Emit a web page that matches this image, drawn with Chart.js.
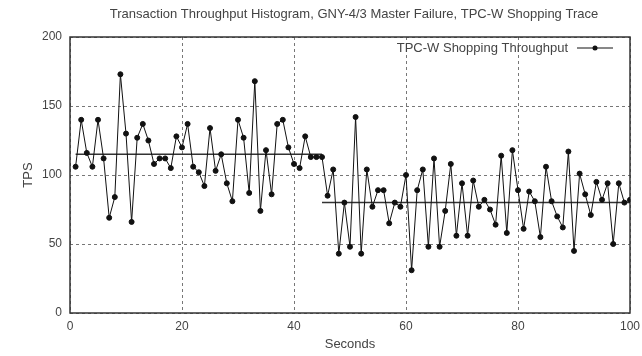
<!DOCTYPE html>
<html lang="en">
<head>
<meta charset="UTF-8">
<title>Transaction Throughput Histogram</title>
<script src="https://cdn.jsdelivr.net/npm/chart.js"></script>
<style>
  html, body { margin: 0; padding: 0; background: #fff; }
  #wrap { width: 642px; height: 356px; }
</style>
</head>
<body>
<div id="wrap"><canvas id="tpsChart"></canvas></div>
<script>
// values
const seconds = [1, 2, 3, 4, 5, 6, 7, 8, 9, 10, 11, 12, 13, 14, 15, 16, 17, 18, 19, 20,
  21, 22, 23, 24, 25, 26, 27, 28, 29, 30, 31, 32, 33, 34, 35, 36, 37, 38, 39, 40,
  41, 42, 43, 44, 45, 46, 47, 48, 49, 50, 51, 52, 53, 54, 55, 56, 57, 58, 59, 60,
  61, 62, 63, 64, 65, 66, 67, 68, 69, 70, 71, 72, 73, 74, 75, 76, 77, 78, 79, 80,
  81, 82, 83, 84, 85, 86, 87, 88, 89, 90, 91, 92, 93, 94, 95, 96, 97, 98, 99, 100];
const tps = [106, 140, 116, 106, 140, 112, 69, 84, 173, 130, 66, 127, 137, 125, 108, 112, 112, 105, 128, 120,
  137, 106, 102, 92, 134, 103, 115, 94, 81, 140, 127, 87, 168, 74, 118, 86, 137, 140, 120, 108,
  105, 128, 113, 113, 113, 85, 104, 43, 80, 48, 142, 43, 104, 77, 89, 89, 65, 80, 77, 100,
  31, 89, 104, 48, 112, 48, 74, 108, 56, 94, 56, 96, 77, 82, 75, 64, 114, 58, 118, 89,
  61, 88, 81, 55, 106, 81, 70, 62, 117, 45, 101, 86, 71, 95, 82, 94, 50, 94, 80, 82];

// average levels before / after the master failure
const meanLevels = [115, 80];
const meanFrom = [1, 45];
const meanTo = [45, 100];

const xTicks = [0, 20, 40, 60, 80, 100];
const yTicks = [0, 50, 100, 150, 200];

const titleText = 'Transaction Throughput Histogram, GNY-4/3 Master Failure, TPC-W Shopping Trace';
const seriesName = 'TPC-W Shopping Throughput';
const fontFamily = '"Liberation Sans", Arial, sans-serif';
const textColor = '#444';

const points = seconds.map((s, i) => ({ x: s, y: tps[i] }));

const datasets = [{
  label: seriesName,
  data: points,
  borderColor: '#111',
  borderWidth: 1,
  pointRadius: 2.5,
  pointBackgroundColor: '#111',
  pointBorderColor: '#111',
  tension: 0
}];
meanLevels.forEach((lvl, i) => {
  datasets.push({
    label: 'mean ' + i,
    data: [{ x: meanFrom[i], y: lvl }, { x: meanTo[i], y: lvl }],
    borderColor: '#333',
    borderWidth: 1.5,
    pointRadius: 0
  });
});

// frame, title and in-plot legend like the gnuplot original
const decor = {
  id: 'decor',
  beforeDatasetsDraw(chart) {
    const { ctx, chartArea: a } = chart;
    ctx.save();
    ctx.strokeStyle = '#333';
    ctx.lineWidth = 1.5;
    ctx.strokeRect(a.left, a.top, a.right - a.left, a.bottom - a.top);
    ctx.restore();
  },
  afterDraw(chart) {
    const { ctx, chartArea: a } = chart;
    ctx.save();
    ctx.fillStyle = textColor;
    ctx.font = '13px ' + fontFamily;
    ctx.textBaseline = 'middle';
    ctx.textAlign = 'center';
    ctx.fillText(titleText, (a.left + a.right) / 2 + 4, 14);

    const ly = a.top + 11;
    ctx.textAlign = 'right';
    ctx.fillText(seriesName, a.right - 62, ly);
    ctx.strokeStyle = '#111';
    ctx.lineWidth = 1;
    ctx.beginPath();
    ctx.moveTo(a.right - 53, ly);
    ctx.lineTo(a.right - 17, ly);
    ctx.stroke();
    ctx.fillStyle = '#111';
    ctx.beginPath();
    ctx.arc(a.right - 35, ly, 2.5, 0, Math.PI * 2);
    ctx.fill();
    ctx.restore();
  }
};

new Chart(document.getElementById('tpsChart'), {
  type: 'line',
  data: { datasets },
  plugins: [decor],
  options: {
    responsive: true,
    maintainAspectRatio: false,
    animation: false,
    devicePixelRatio: 1,
    layout: { padding: { top: 37, left: 10, right: 12, bottom: 2 } },
    plugins: {
      legend: { display: false },
      title: { display: false },
      tooltip: { enabled: false }
    },
    scales: {
      x: {
        type: 'linear',
        min: 0,
        max: 100,
        afterBuildTicks: s => { s.ticks = xTicks.map(v => ({ value: v })); },
        afterFit: s => { s.height = 41; s.paddingRight = 0; s.paddingLeft = 0; },
        ticks: { color: textColor, font: { size: 12, family: fontFamily }, padding: 6 },
        grid: { color: '#777', drawTicks: false },
        border: { display: false, dash: [3, 3] },
        title: { display: true, text: 'Seconds', color: textColor, font: { size: 13, family: fontFamily }, padding: { top: 2, bottom: 2 } }
      },
      y: {
        min: 0,
        max: 200,
        afterBuildTicks: s => { s.ticks = yTicks.map(v => ({ value: v })); },
        afterFit: s => { s.width = 60; },
        ticks: { color: textColor, font: { size: 12, family: fontFamily }, padding: 8 },
        grid: { color: '#777', drawTicks: false },
        border: { display: false, dash: [3, 3] },
        title: { display: true, text: 'TPS', color: textColor, font: { size: 13, family: fontFamily }, padding: { top: 11, bottom: 4 } }
      }
    }
  }
});
</script>
</body>
</html>
